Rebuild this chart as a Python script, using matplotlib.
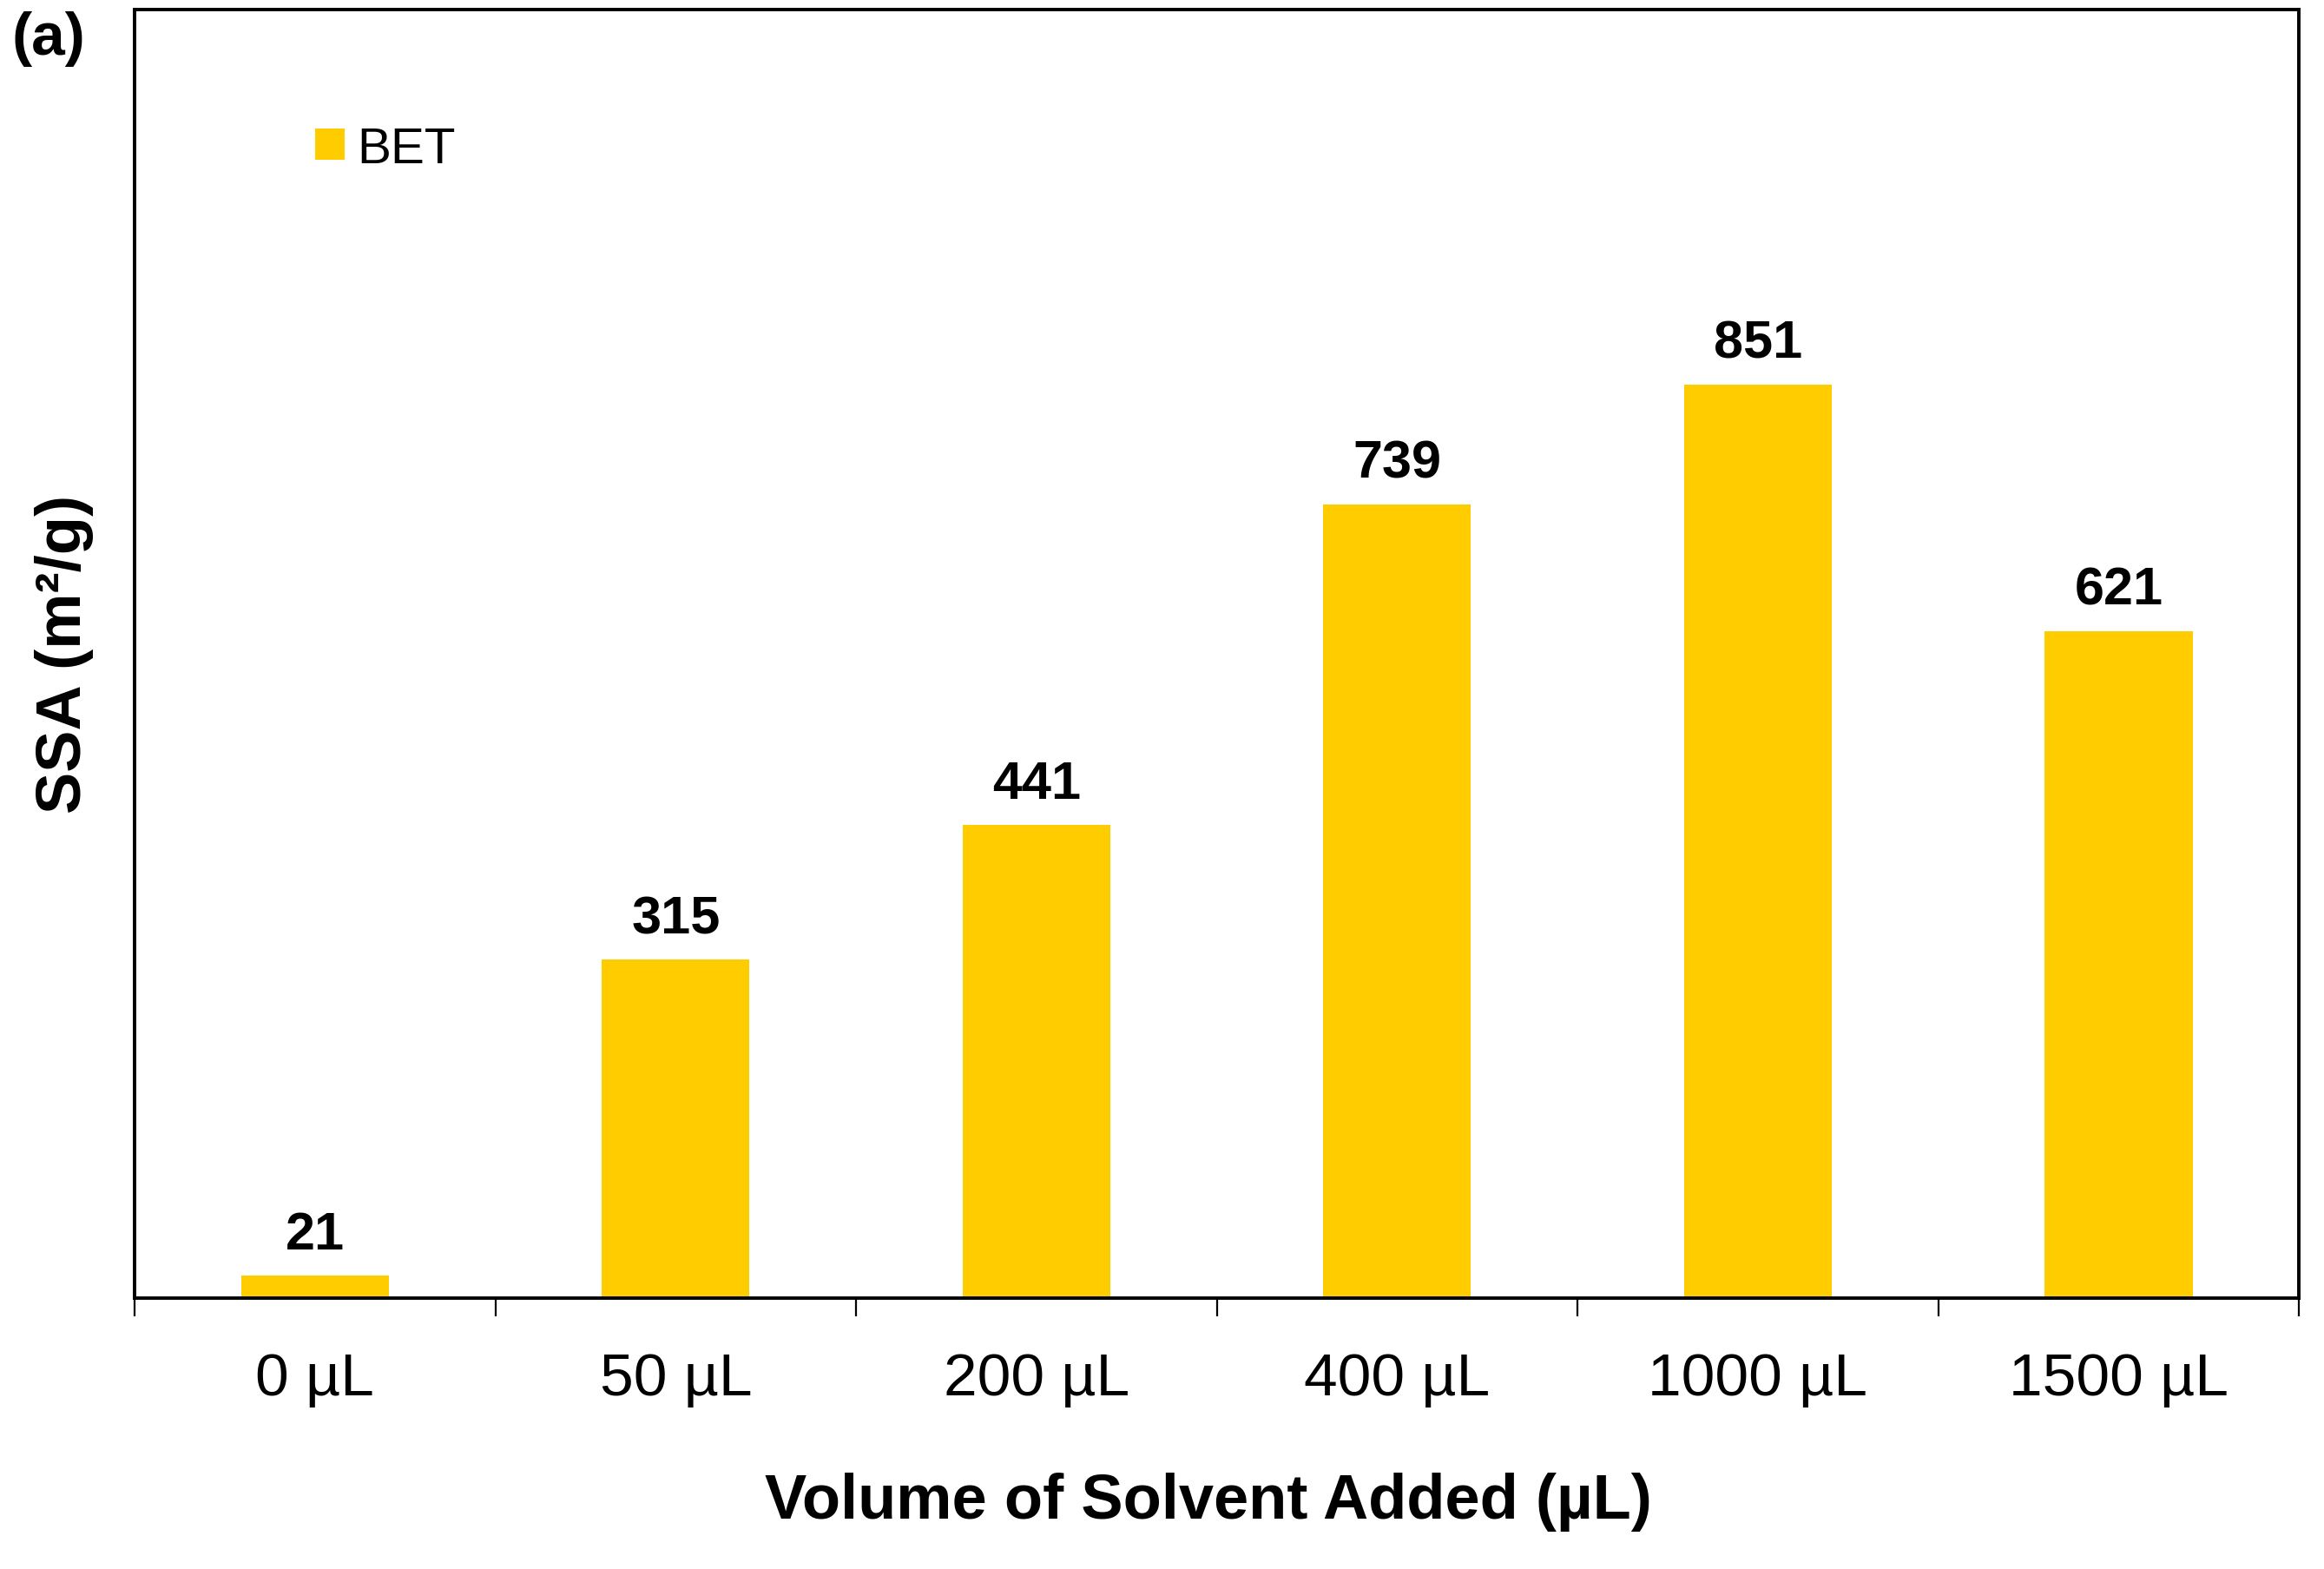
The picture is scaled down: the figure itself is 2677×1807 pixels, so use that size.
import matplotlib
matplotlib.use("Agg")
import matplotlib.pyplot as plt
import numpy as np

# data
categories = ["0 µL", "50 µL", "200 µL", "400 µL", "1000 µL", "1500 µL"]
ssa_values = [21, 315, 441, 739, 851, 621]
series_name = "BET"

BAR_COLOR = "#FFCC00"

plt.rcParams["font.family"] = ["Liberation Sans", "DejaVu Sans"]

fig = plt.figure(figsize=(13.385, 9.04), dpi=200)
ax = fig.add_axes([0.0579, 0.1726, 0.9313, 0.8208])

x = np.arange(len(categories))
bars = ax.bar(x, ssa_values, width=0.41, color=BAR_COLOR, label=series_name, zorder=2)

for xi, v in zip(x, ssa_values):
    ax.annotate(str(v), (xi, v), xytext=(0, 6.5), textcoords="offset points",
                ha="center", va="bottom", fontsize=22, fontweight="bold")

ax.set_xlim(-0.5, len(categories) - 0.5)
ax.set_ylim(0, 1200)

# category labels at centres, tick marks on the boundaries
ax.set_xticks(x)
ax.set_xticklabels(categories, fontsize=25)
ax.tick_params(axis="x", which="major", length=0, pad=22)
ax.set_xticks(np.arange(len(categories) + 1) - 0.5, minor=True)
ax.tick_params(axis="x", which="minor", length=7.5, width=0.8, direction="out", color="black")
ax.set_yticks([])

for s in ax.spines.values():
    s.set_linewidth(1.4)
    s.set_color("black")
    s.set_zorder(3)

ax.set_xlabel("Volume of Solvent Added (µL)", fontsize=26, fontweight="bold", labelpad=27)
ax.xaxis.label.set_x(0.496)
ax.set_ylabel("SSA (m²/g)", fontsize=26, fontweight="bold", labelpad=17)

ax.legend(loc="upper left", bbox_to_anchor=(0.0625, 0.945), frameon=False, fontsize=21,
          handlelength=0.57, handleheight=0.57, handletextpad=0.25)

fig.text(0.005, 0.993, "(a)", fontsize=25, fontweight="bold", ha="left", va="top")

fig.savefig("out.png", dpi=200)
